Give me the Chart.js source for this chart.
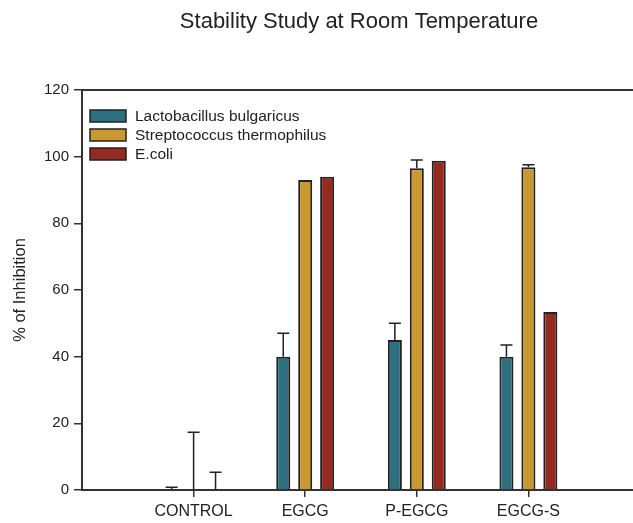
<!DOCTYPE html>
<html>
<head>
<meta charset="utf-8">
<title>Stability Study at Room Temperature</title>
<script src="https://cdn.jsdelivr.net/npm/chart.js@4.4.1/dist/chart.umd.min.js"></script>
<style>
    html, body { margin: 0; padding: 0; background: #fff; overflow: hidden; }
    #wrap { width: 645px; height: 523px; position: relative; }
</style>
</head>
<body>
<div id="wrap"><canvas id="chart"></canvas></div>
<script>
const chartTitle = 'Stability Study at Room Temperature';
const categories = ['CONTROL', 'EGCG', 'P-EGCG', 'EGCG-S'];
const seriesNames = ['Lactobacillus bulgaricus', 'Streptococcus thermophilus', 'E.coli'];
const lactoValues = [0, 40, 45, 40];
const lactoErrors = [0.8, 7, 5, 3.5];
const strepValues = [0, 93, 96.5, 96.8];
const strepErrors = [17.3, 0, 2.5, 0.8];
const ecoliValues = [0, 94, 98.8, 53.4];
const ecoliErrors = [5.3, 0, 0, 0];
const yTicks = [0, 20, 40, 60, 80, 100, 120];

const colors = ['#2f6f82', '#c9982e', '#962a20'];
const ink = '#222';
const font = "'Liberation Sans', Arial, sans-serif";

// blank slots either side so the groups sit where the original axis put them
const labels = ['', ...categories, ''];
const pad = arr => [null, ...arr, null];

// upper-only error bars, drawn from the bar elements and the y scale
const errorBars = {
    id: 'errorBars',
    afterDatasetsDraw(chart) {
        const { ctx } = chart;
        const y = chart.scales.y;
        chart.data.datasets.forEach((ds, di) => {
            const meta = chart.getDatasetMeta(di);
            meta.data.forEach((bar, i) => {
                const v = ds.data[i];
                const e = ds.errors[i];
                if (v == null || !e) return;
                const top = y.getPixelForValue(v + e);
                const base = y.getPixelForValue(v);
                ctx.save();
                ctx.strokeStyle = ink;
                ctx.lineWidth = 1.5;
                ctx.beginPath();
                ctx.moveTo(bar.x, base);
                ctx.lineTo(bar.x, top);
                ctx.moveTo(bar.x - 6, top);
                ctx.lineTo(bar.x + 6, top);
                ctx.stroke();
                ctx.restore();
            });
        });
    }
};

// title, top frame line and the boxed legend inside the plot
const decorations = {
    id: 'decorations',
    afterDraw(chart) {
        const { ctx, chartArea } = chart;
        ctx.save();
        ctx.strokeStyle = '#333';
        ctx.lineWidth = 2;
        ctx.beginPath();
        ctx.moveTo(chartArea.left, chartArea.top);
        ctx.lineTo(chartArea.right, chartArea.top);
        ctx.stroke();

        ctx.fillStyle = ink;
        ctx.font = '22px ' + font;
        ctx.textAlign = 'center';
        ctx.textBaseline = 'middle';
        ctx.fillText(chartTitle, 359, 22);

        ctx.font = '15.5px ' + font;
        ctx.textAlign = 'left';
        chart.data.datasets.forEach((ds, i) => {
            const bx = chartArea.left + 8;
            const by = chartArea.top + 20 + i * 19;
            ctx.fillStyle = ds.backgroundColor;
            ctx.fillRect(bx, by, 36, 12);
            ctx.strokeStyle = ink;
            ctx.lineWidth = 1.5;
            ctx.strokeRect(bx, by, 36, 12);
            ctx.fillStyle = ink;
            ctx.fillText(ds.label, bx + 45, by + 6.5);
        });
        ctx.restore();
    }
};

const series = [
    [lactoValues, lactoErrors],
    [strepValues, strepErrors],
    [ecoliValues, ecoliErrors],
];

new Chart(document.getElementById('chart'), {
    type: 'bar',
    data: {
        labels,
        datasets: series.map(([vals, errs], i) => ({
            label: seriesNames[i],
            data: pad(vals),
            errors: pad(errs),
            backgroundColor: colors[i],
            borderColor: ink,
            borderWidth: 2,
            categoryPercentage: 0.59,
            barPercentage: 0.64,
        })),
    },
    options: {
        responsive: true,
        maintainAspectRatio: false,
        animation: false,
        layout: { padding: { top: 90, right: 5, left: 0, bottom: 0 } },
        plugins: {
            legend: { display: false },
            title: { display: false },
            tooltip: { enabled: false },
        },
        scales: {
            x: {
                offset: false,
                grid: {
                    offset: false,
                    drawOnChartArea: false,
                    tickLength: 7,
                    lineWidth: 1.5,
                    color: c => (c.tick && c.tick.label ? '#333' : 'rgba(0,0,0,0)'),
                },
                border: { color: '#333', width: 2 },
                ticks: { color: ink, font: { family: font, size: 16 }, padding: 5, autoSkip: false, maxRotation: 0 },
                afterFit: s => { s.height = 33; },
            },
            y: {
                min: 0,
                max: 120,
                afterBuildTicks: s => { s.ticks = yTicks.map(v => ({ value: v })); },
                grid: { drawOnChartArea: false, tickLength: 8, lineWidth: 1.5, color: '#333' },
                border: { color: '#333', width: 2 },
                ticks: { color: ink, font: { family: font, size: 15 }, padding: 5 },
                title: {
                    display: true,
                    text: '% of Inhibition',
                    color: ink,
                    font: { family: font, size: 16.5 },
                    padding: { top: 11, bottom: 0 },
                },
                afterFit: s => { s.width = 82; },
            },
        },
    },
    plugins: [errorBars, decorations],
});
</script>
</body>
</html>
